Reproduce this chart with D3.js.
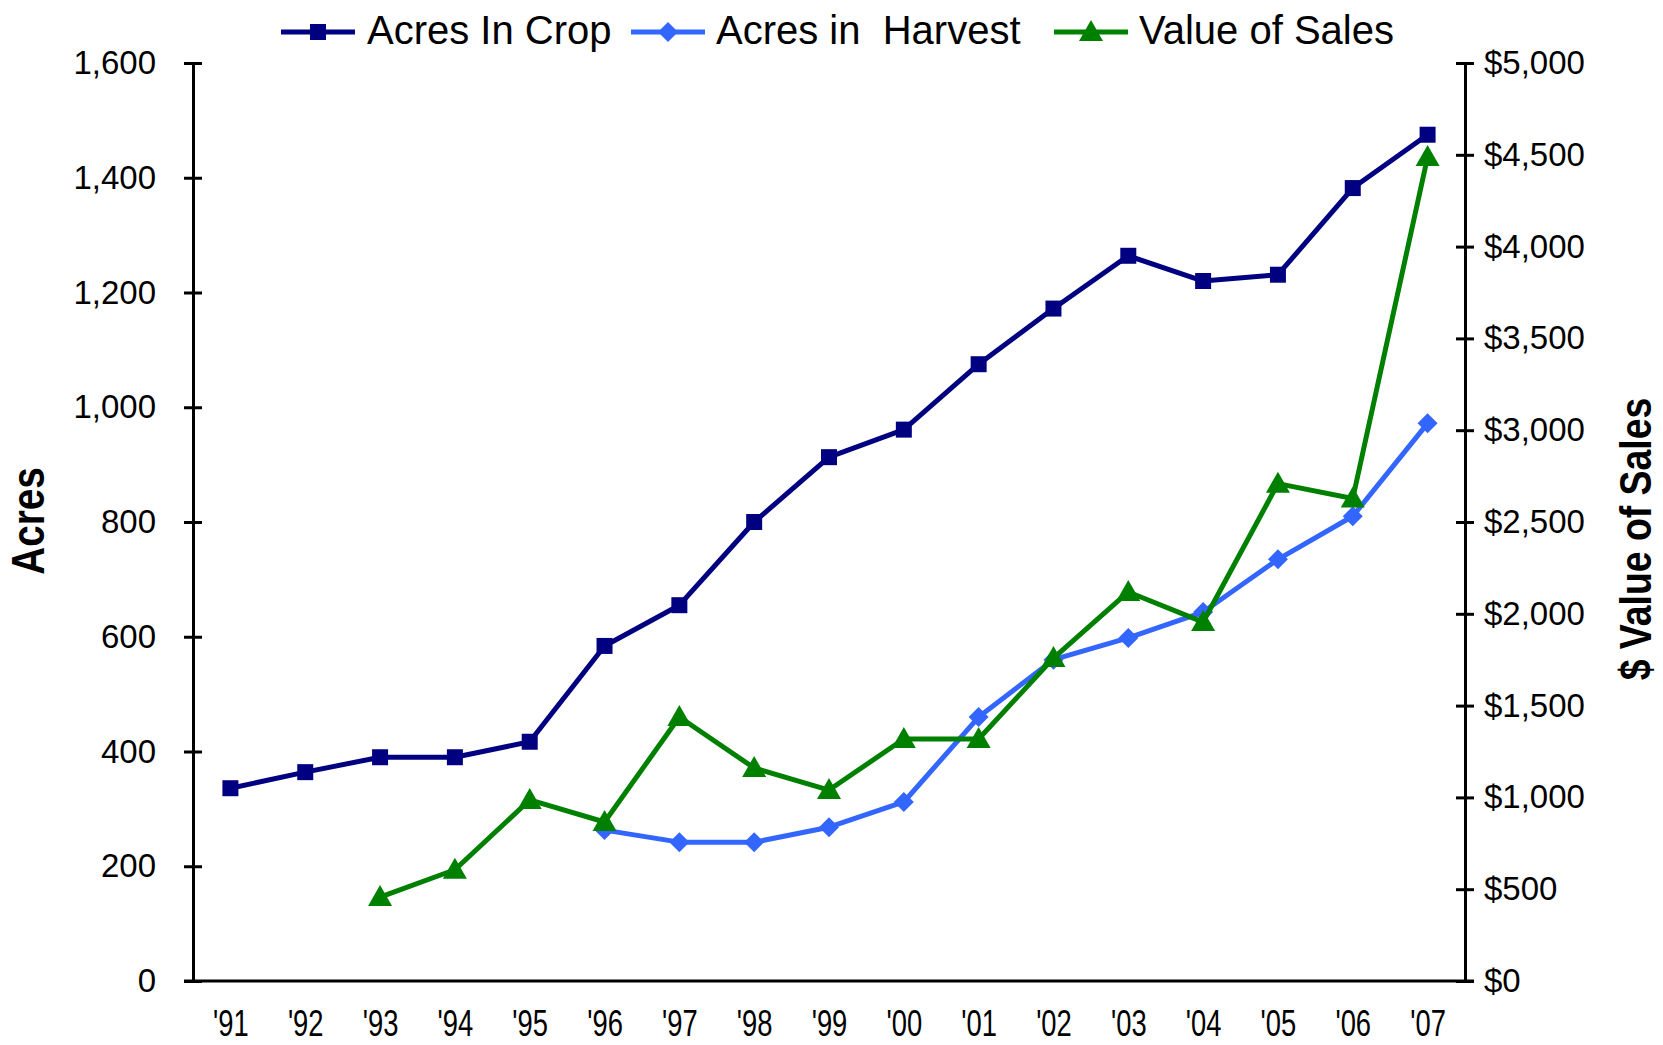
<!DOCTYPE html>
<html>
<head>
<meta charset="utf-8">
<script src="https://cdn.jsdelivr.net/npm/d3@7"></script>
<style>
  body { margin: 0; background: #fff; }
  text { font-family: "Liberation Sans", Arial, sans-serif; fill: #000; }
</style>
</head>
<body>
<div id="container"></div>
<script>
let years = ["'91", "'92", "'93", "'94", "'95", "'96", "'97", "'98", "'99", "'00", "'01", "'02", "'03", "'04", "'05", "'06", "'07"]
let acresCrop = [336, 364, 390, 390, 417, 584, 655, 800, 913, 961, 1075, 1172, 1264, 1220, 1231, 1382, 1475]
let acresHarvest = [null, null, null, null, null, 263, 242, 242, 268, 312, 460, 560, 598, 643, 735, 810, 972]
let salesValue = [null, null, 457, 606, 986, 866, 1438, 1160, 1040, 1318, 1318, 1759, 2119, 1955, 2709, 2628, 4488]
let leftTicks = [0, 200, 400, 600, 800, 1000, 1200, 1400, 1600]
let rightTicks = [0, 500, 1000, 1500, 2000, 2500, 3000, 3500, 4000, 4500, 5000]

let width = 1663,
  height = 1045,
  plot = { left: 193, right: 1465, top: 63, bottom: 981 }

let svg = d3.select('#container')
  .append('svg')
  .attr('width', width)
  .attr('height', height)

let scale_x = d3.scalePoint()
  .domain(years)
  .range([plot.left, plot.right])
  .padding(0.5)

let scale_y = d3.scaleLinear()
  .domain([0, 1600])
  .range([plot.bottom, plot.top])

let scale_y2 = d3.scaleLinear()
  .domain([0, 5000])
  .range([plot.bottom, plot.top])

// axes
let y_axis = d3.axisLeft(scale_y)
  .tickValues(leftTicks)
  .tickFormat(d3.format(','))
  .tickSizeInner(9).tickSizeOuter(0).tickPadding(28)

let y2_axis = d3.axisRight(scale_y2)
  .tickValues(rightTicks)
  .tickFormat(d => '$' + d3.format(',')(d))
  .tickSizeInner(9).tickSizeOuter(0).tickPadding(10)

let x_axis = d3.axisBottom(scale_x)
  .tickSize(0).tickPadding(0)

let gy = svg.append('g')
  .attr('transform', 'translate(' + plot.left + ',0)')
  .call(y_axis)
let gy2 = svg.append('g')
  .attr('transform', 'translate(' + plot.right + ',0)')
  .call(y2_axis)

// make ticks cross the axis line
gy.selectAll('.tick line').attr('x1', 9).attr('x2', -9)
gy2.selectAll('.tick line').attr('x1', -9).attr('x2', 9)

let gx = svg.append('g')
  .attr('transform', 'translate(0,' + plot.bottom + ')')
  .call(x_axis)
gx.select('.domain').attr('d', 'M' + (plot.left - 9) + ',0H' + (plot.right + 9))

svg.selectAll('.domain, .tick line')
  .attr('stroke', '#000')
  .attr('stroke-width', 3)

gy.selectAll('.tick text').style('font-size', '33px')
gy2.selectAll('.tick text').style('font-size', '33px')
gx.selectAll('.tick text')
  .style('font-size', '37px')
  .attr('y', 55)
  .attr('dy', null)
  .attr('transform', 'scale(0.74,1)')

// axis titles
svg.append('text')
  .attr('transform', 'translate(44,' + 521 + ') rotate(-90) scale(0.84,1)')
  .attr('text-anchor', 'middle')
  .style('font-size', '46px')
  .style('font-weight', 'bold')
  .text('Acres')

svg.append('text')
  .attr('transform', 'translate(1651,' + 539 + ') rotate(-90) scale(0.85,1)')
  .attr('text-anchor', 'middle')
  .style('font-size', '44px')
  .style('font-weight', 'bold')
  .text('$ Value of Sales')

// series
let series = [
  { name: 'Acres In Crop', values: acresCrop, y: scale_y, color: '#000080', symbol: 'square' },
  { name: 'Acres in  Harvest', values: acresHarvest, y: scale_y, color: '#3366ff', symbol: 'diamond' },
  { name: 'Value of Sales', values: salesValue, y: scale_y2, color: '#008000', symbol: 'triangle' }
]

function markerPath(type) {
  if (type === 'square') return 'M-8,-8H8V8H-8Z'
  if (type === 'diamond') return 'M0,-10L10,0L0,10L-10,0Z'
  return 'M0,-12L12,9H-12Z'
}

series.forEach(function (s) {
  let line_generator = d3.line()
    .defined(d => d != null)
    .x((d, i) => scale_x(years[i]))
    .y(d => s.y(d))

  svg.append('path')
    .attr('d', line_generator(s.values))
    .attr('fill', 'none')
    .attr('stroke', s.color)
    .attr('stroke-width', 5)
    .attr('stroke-linejoin', 'round')

  svg.append('g').selectAll('path')
    .data(s.values.map((v, i) => ({ v: v, year: years[i] })).filter(d => d.v != null))
    .enter().append('path')
    .attr('transform', d => 'translate(' + scale_x(d.year) + ',' + s.y(d.v) + ')')
    .attr('d', markerPath(s.symbol))
    .attr('fill', s.color)
})

// legend
let legendItems = [
  { x: 281, textX: 367 },
  { x: 631, textX: 716 },
  { x: 1054, textX: 1139 }
]
let legend = svg.append('g')
series.forEach(function (s, i) {
  let li = legendItems[i]
  legend.append('line')
    .attr('x1', li.x).attr('x2', li.x + 74)
    .attr('y1', 32).attr('y2', 32)
    .attr('stroke', s.color)
    .attr('stroke-width', 5)
  legend.append('path')
    .attr('transform', 'translate(' + (li.x + 37) + ',32)')
    .attr('d', markerPath(s.symbol))
    .attr('fill', s.color)
  legend.append('text')
    .attr('x', li.textX)
    .attr('y', 44)
    .style('font-size', '40px')
    .style('white-space', 'pre')
    .attr('xml:space', 'preserve')
    .text(s.name)
})
</script>
</body>
</html>
